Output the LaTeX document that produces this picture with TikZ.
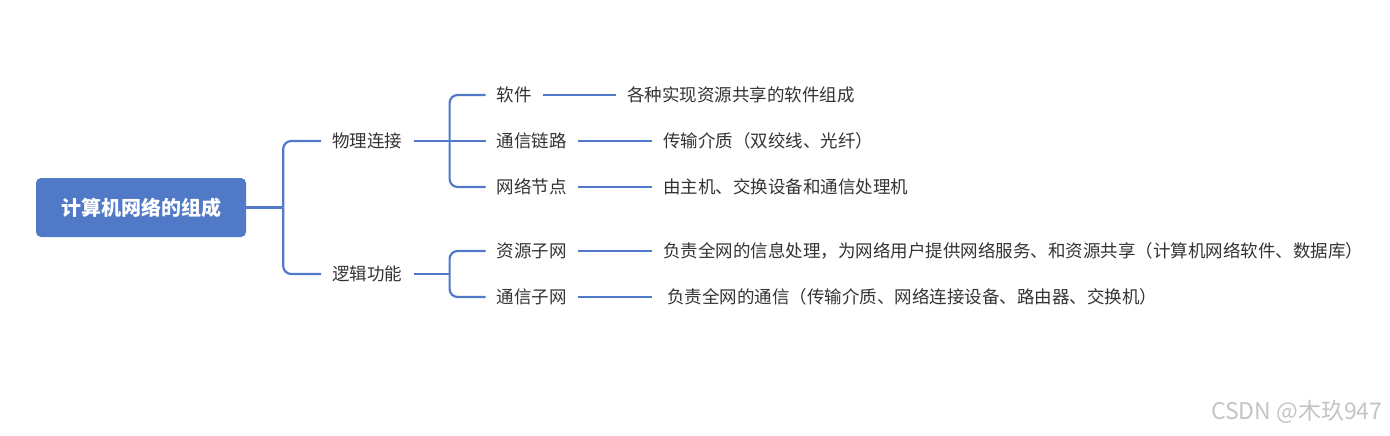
\documentclass[tikz,border=0pt]{standalone}
\usepackage{fontspec}
\setmainfont{Noto Sans CJK SC}
\usepackage{tikz}
\usetikzlibrary{positioning}
\definecolor{MapBlue}{HTML}{5079C8}
\definecolor{LineBlue}{HTML}{5079C8}
\definecolor{TextGray}{HTML}{333333}
\definecolor{MarkGray}{HTML}{C4C4C4}

\begin{document}
\begin{tikzpicture}[
  x=1pt, y=-1pt,
  node distance=74pt,
  rootbox/.style={rectangle, rounded corners=5pt, fill=MapBlue, text=white,
    minimum width=210pt, minimum height=59pt,
    font=\fontsize{20}{24}\selectfont\bfseries},
  topic/.style={inner xsep=11pt, inner ysep=2pt, text=TextGray,
    font=\fontsize{17.5}{21}\selectfont},
  leaf/.style={topic},
  link/.style={draw=LineBlue, line width=2.2pt, rounded corners=8pt},
  wmark/.style={text=MarkGray, font=\fontsize{23}{27}\selectfont}
]
\useasboundingbox (0,0) rectangle (1390,436);

\node[rootbox] (root) at (141,207.5) {计算机网络的组成};

% first level
\node[topic, right=75pt of root, yshift=66.5pt] (phys) {物理连接};
\node[topic, right=75pt of root, yshift=-66.5pt] (logic) {逻辑功能};

% second level
\node[topic, right=72pt of phys, yshift=46pt] (soft) {软件};
\node[topic, right=72pt of phys] (chan) {通信链路};
\node[topic, right=72pt of phys, yshift=-46pt] (hosts) {网络节点};
\node[topic, right=72pt of logic, yshift=23pt] (resnet) {资源子网};
\node[topic, right=72pt of logic, yshift=-23pt] (comnet) {通信子网};

% details
\node[leaf, right=73pt of soft] (softd) {各种实现资源共享的软件组成};
\node[leaf, right=of chan] (chand) {传输介质（双绞线、光纤）};
\node[leaf, right=of hosts] (hostsd) {由主机、交换设备和通信处理机};
\node[leaf, right=of resnet] (resnetd)
  {负责全网的信息处理，为网络用户提供网络服务、和资源共享（计算机网络软件、数据库）};
\node[leaf, right=of comnet] (comnetd)
  {\ 负责全网的通信（传输介质、网络连接设备、路由器、交换机）};

\node[wmark, anchor=east] (wm) at (1386,412) {CSDN @木玖947};

% Connectors
\coordinate (j1) at ([xshift=37pt]root.east);
\coordinate (j2) at ([xshift=36pt]phys.east);
\coordinate (j3) at ([xshift=36pt]logic.east);
\draw[link] (root.east) -- (j1);
\draw[link] (j1) |- (phys.west);
\draw[link] (j1) |- (logic.west);
\draw[link] (phys.east) -- (j2);
\draw[link] (j2) |- (soft.west);
\draw[link] (j2) -- (chan.west);
\draw[link] (j2) |- (hosts.west);
\draw[link] (logic.east) -- (j3);
\draw[link] (j3) |- (resnet.west);
\draw[link] (j3) |- (comnet.west);
\draw[link] (soft.east) -- (softd.west);
\draw[link] (chan.east) -- (chand.west);
\draw[link] (hosts.east) -- (hostsd.west);
\draw[link] (resnet.east) -- (resnetd.west);
\draw[link] (comnet.east) -- (comnetd.west);

\end{tikzpicture}
\end{document}
